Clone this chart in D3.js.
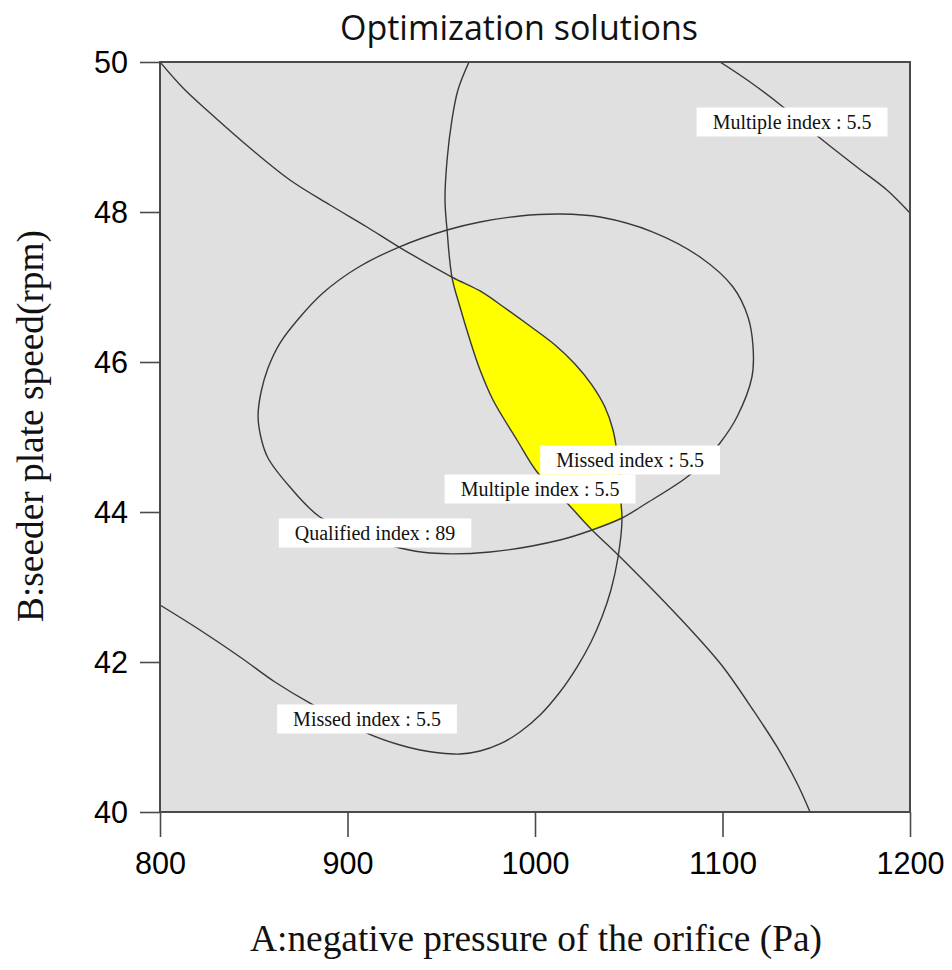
<!DOCTYPE html>
<html>
<head>
<meta charset="utf-8">
<script src="https://cdn.jsdelivr.net/npm/d3@7"></script>
<style>
  body { margin: 0; background: #fff; }
  svg { display: block; }
</style>
</head>
<body>
<div id="chart"></div>
<script>
// axis ranges and ticks
const xDomain = [800, 1200];
const yDomain = [40, 50];
const xTicks = [800, 900, 1000, 1100, 1200];
const yTicks = [40, 42, 44, 46, 48, 50];

// contour lines, [A (Pa), B (rpm)]
const missedIndex = [
  [800, 50], [812.3, 49.653], [826.7, 49.32], [848.0, 48.853], [869.3, 48.427],
  [890.7, 48.093], [910.4, 47.8], [927.5, 47.533], [955.7, 47.133], [970.7, 46.947],
  [984.0, 46.72], [997.3, 46.48], [1010.7, 46.227], [1021.3, 45.973], [1030.4, 45.693],
  [1037.3, 45.4], [1041.6, 45.093], [1043.7, 44.8], [1045.3, 44.453], [1045.9, 44.12],
  [1046.4, 43.893], [1044.3, 43.4], [1040.5, 42.96], [1035.7, 42.6], [1029.9, 42.267],
  [1022.4, 41.933], [1013.3, 41.6], [1002.7, 41.293], [992.0, 41.067], [981.3, 40.907],
  [970.7, 40.813], [960.0, 40.773], [949.3, 40.787], [938.7, 40.827], [928.0, 40.893],
  [910.4, 41.053], [896.0, 41.253], [880.0, 41.453], [861.3, 41.733], [842.7, 42.067],
  [821.3, 42.427], [800, 42.76]
];
const multipleIndexLow = [
  [964.8, 50], [958.9, 49.627], [955.7, 49.227], [953.1, 48.693], [952.0, 48.16],
  [953.1, 47.76], [955.7, 47.133], [960.0, 46.733], [965.3, 46.293], [970.7, 45.893],
  [977.6, 45.493], [990.4, 44.96], [1001.1, 44.533], [1017.1, 44.12], [1030.4, 43.76],
  [1042.7, 43.467], [1062.9, 42.96], [1075.7, 42.627], [1088.0, 42.293], [1100.3, 41.933],
  [1116.3, 41.36], [1129.1, 40.867], [1139.7, 40.387], [1146.7, 40]
];
const multipleIndexHigh = [
  [1098.7, 50], [1114.7, 49.733], [1132.3, 49.4], [1152.0, 48.987], [1171.7, 48.6],
  [1187.7, 48.293], [1200, 47.987]
];
const qualifiedIndex = [
  [852.3, 45.28], [853.9, 45.6], [857.6, 45.92], [864.0, 46.253], [874.7, 46.6],
  [886.9, 46.92], [905.1, 47.253], [927.5, 47.533], [953.1, 47.76], [970.7, 47.867],
  [992.0, 47.947], [1013.3, 47.973], [1034.7, 47.933], [1062.9, 47.733], [1088.0, 47.4],
  [1105.6, 47.0], [1113.6, 46.6], [1116.3, 46.2], [1115.7, 45.8], [1107.7, 45.267],
  [1098.7, 44.92], [1090.7, 44.693], [1081.1, 44.467], [1059.7, 44.12], [1046.4, 43.92],
  [1030.4, 43.76], [1013.3, 43.627], [976.0, 43.467], [944.0, 43.453], [928.0, 43.52],
  [906.7, 43.693], [885.3, 43.933], [869.3, 44.333], [857.6, 44.72], [853.9, 44.987]
];

// contour labels: text, centre [A, B]
const labels = [
  { text: 'Multiple index : 5.5', at: [1137.1, 49.2] },
  { text: 'Missed index : 5.5', at: [1050.7, 44.693] },
  { text: 'Multiple index : 5.5', at: [1002.7, 44.307] },
  { text: 'Qualified index : 89', at: [914.7, 43.72] },
  { text: 'Missed index : 5.5', at: [910.4, 41.24] }
];

const W = 952, H = 970;
const m = { top: 62, left: 160, right: 42, bottom: 158 };
const width = W - m.left - m.right, height = H - m.top - m.bottom;

const svg = d3.select('#chart').append('svg')
  .attr('width', W).attr('height', H);

const x = d3.scaleLinear().domain(xDomain).range([0, width]);
const y = d3.scaleLinear().domain(yDomain).range([height, 0]);

const g = svg.append('g').attr('transform', `translate(${m.left},${m.top})`);

g.append('clipPath').attr('id', 'plotClip')
  .append('rect').attr('width', width).attr('height', height);

g.append('rect')
  .attr('width', width).attr('height', height)
  .attr('fill', '#e0e0e0');

// feasible region: between the two 5.5 contours and the 89 contour
const feasible = multipleIndexLow.slice(6, 15)
  .concat([qualifiedIndex[24]])
  .concat(missedIndex.slice(8, 21).reverse());

const area = d3.line().x(d => x(d[0])).y(d => y(d[1])).curve(d3.curveLinearClosed);
const line = d3.line().x(d => x(d[0])).y(d => y(d[1])).curve(d3.curveCatmullRom.alpha(0.5));
const loop = d3.line().x(d => x(d[0])).y(d => y(d[1])).curve(d3.curveCatmullRomClosed.alpha(0.5));

const plot = g.append('g').attr('clip-path', 'url(#plotClip)');

plot.append('path')
  .attr('d', area(feasible))
  .attr('fill', '#ffff00')
  .attr('stroke', 'none');

[missedIndex, multipleIndexLow, multipleIndexHigh].forEach(d => {
  plot.append('path')
    .attr('d', line(d))
    .attr('fill', 'none')
    .attr('stroke', '#383838')
    .attr('stroke-width', 1.4);
});

plot.append('path')
  .attr('d', loop(qualifiedIndex))
  .attr('fill', 'none')
  .attr('stroke', '#383838')
  .attr('stroke-width', 1.4);

// labels with white boxes
const lab = g.append('g').selectAll('g')
  .data(labels)
  .enter()
  .append('g')
  .attr('transform', d => `translate(${x(d.at[0])},${y(d.at[1])})`);

lab.append('rect').attr('fill', '#fff');
lab.append('text')
  .attr('text-anchor', 'middle')
  .attr('dy', '0.34em')
  .style('font-family', '"Liberation Serif", "Times New Roman", serif')
  .style('font-size', '20px')
  .attr('fill', '#111')
  .text(d => d.text);

lab.each(function() {
  const t = d3.select(this).select('text').node().getBBox();
  d3.select(this).select('rect')
    .attr('x', t.x - 16).attr('y', -14.5)
    .attr('width', t.width + 32).attr('height', 29);
});

// frame
g.append('rect')
  .attr('width', width).attr('height', height)
  .attr('fill', 'none')
  .attr('stroke', '#4a4a4a')
  .attr('stroke-width', 2);

// axes
const xAxis = d3.axisBottom(x).tickValues(xTicks).tickFormat(d3.format('d'))
  .tickSize(25).tickPadding(14).tickSizeOuter(0);
const yAxis = d3.axisLeft(y).tickValues(yTicks).tickFormat(d3.format('d'))
  .tickSize(20).tickPadding(12).tickSizeOuter(0);

const styleAxis = ax => {
  ax.select('.domain').remove();
  ax.selectAll('line').attr('stroke', '#4a4a4a').attr('stroke-width', 1.6);
  ax.selectAll('text')
    .style('font-family', '"Liberation Sans", Arial, sans-serif')
    .style('font-size', '32px')
    .attr('fill', '#000')
    .attr('textLength', d => String(d).length * 17)
    .attr('lengthAdjust', 'spacingAndGlyphs');
};

g.append('g')
  .attr('transform', `translate(0,${height})`)
  .call(xAxis)
  .call(styleAxis);

g.append('g')
  .call(yAxis)
  .call(styleAxis);

// titles
svg.append('text')
  .attr('x', 519).attr('y', 40)
  .attr('text-anchor', 'middle')
  .style('font-family', '"Open Sans", "Noto Sans", sans-serif')
  .style('font-size', '34px')
  .attr('textLength', 358)
  .attr('lengthAdjust', 'spacingAndGlyphs')
  .attr('fill', '#111')
  .text('Optimization solutions');

svg.append('text')
  .attr('x', 536).attr('y', 951)
  .attr('text-anchor', 'middle')
  .style('font-family', '"Liberation Serif", "Times New Roman", serif')
  .style('font-size', '38px')
  .attr('textLength', 572)
  .attr('lengthAdjust', 'spacingAndGlyphs')
  .attr('fill', '#111')
  .text('A:negative pressure of the orifice (Pa)');

svg.append('text')
  .attr('transform', 'translate(43,426) rotate(-90)')
  .attr('text-anchor', 'middle')
  .style('font-family', '"Liberation Serif", "Times New Roman", serif')
  .style('font-size', '38px')
  .attr('textLength', 392)
  .attr('lengthAdjust', 'spacingAndGlyphs')
  .attr('fill', '#111')
  .text('B:seeder plate speed(rpm)');
</script>
</body>
</html>
